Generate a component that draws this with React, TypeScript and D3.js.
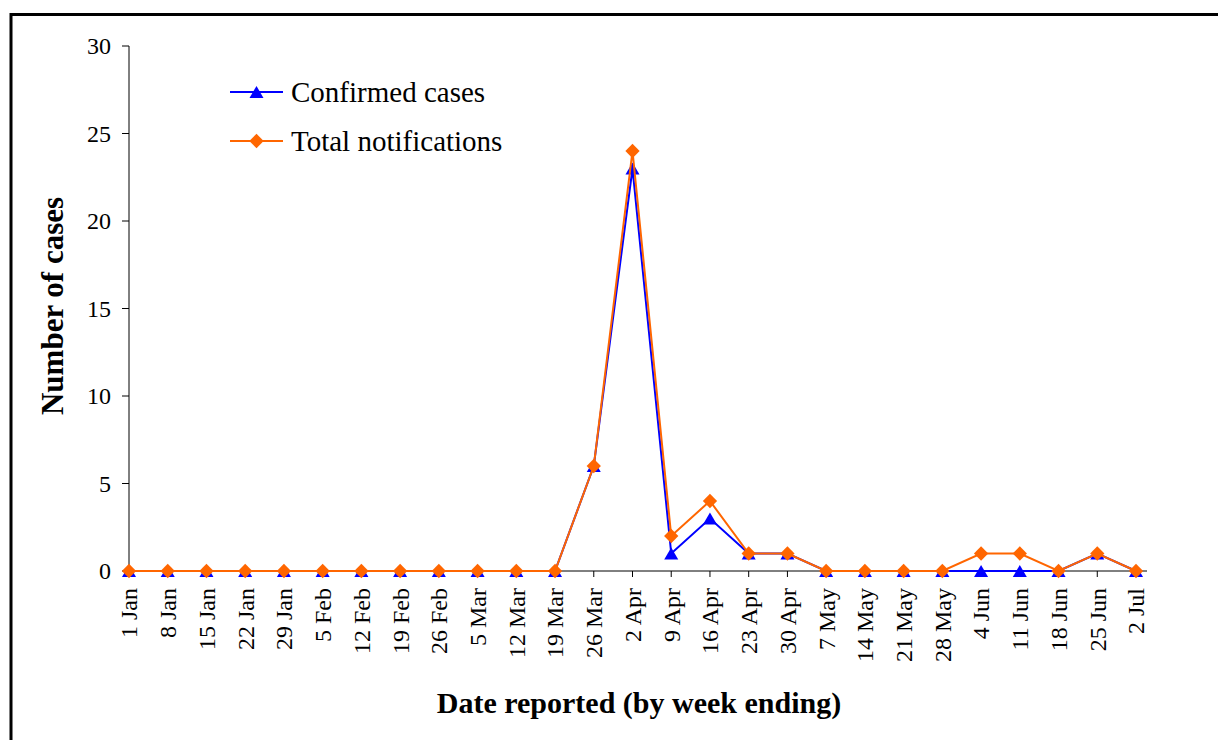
import React from "react";
import * as d3 from "d3";

const weeks = [
  "1 Jan", "8 Jan", "15 Jan", "22 Jan", "29 Jan", "5 Feb", "12 Feb", "19 Feb", "26 Feb",
  "5 Mar", "12 Mar", "19 Mar", "26 Mar", "2 Apr", "9 Apr", "16 Apr", "23 Apr", "30 Apr",
  "7 May", "14 May", "21 May", "28 May", "4 Jun", "11 Jun", "18 Jun", "25 Jun", "2 Jul",
];
const confirmed = [0, 0, 0, 0, 0, 0, 0, 0, 0, 0, 0, 0, 6, 23, 1, 3, 1, 1, 0, 0, 0, 0, 0, 0, 0, 1, 0];
const notifications = [0, 0, 0, 0, 0, 0, 0, 0, 0, 0, 0, 0, 6, 24, 2, 4, 1, 1, 0, 0, 0, 0, 1, 1, 0, 1, 0];
const yTicks = [0, 5, 10, 15, 20, 25, 30];

const W = 1218;
const H = 740;
const FONT = "'Liberation Serif', 'Times New Roman', serif";

export default function App() {
  const x = d3.scalePoint<string>().domain(weeks).range([129, 1136]);
  const y = d3.scaleLinear().domain([0, 30]).range([571, 46]);

  const line = d3
    .line<number>()
    .x((_, i) => x(weeks[i]) as number)
    .y((d) => y(d));

  const tri = d3.symbol().type(d3.symbolTriangle).size(85)()!;
  const dia = d3.symbol().type(d3.symbolDiamond2 ?? d3.symbolDiamond).size(130)()!;

  const series = [
    { name: "Confirmed cases", values: confirmed, color: "#0000FF", marker: tri, dy: 2 },
    { name: "Total notifications", values: notifications, color: "#FF6600", marker: dia, dy: 0 },
  ];

  return (
    <svg
      width={W}
      height={H}
      style={{ position: "absolute", left: 0, top: 0, background: "#fff" }}
      fontFamily={FONT}
    >
      {/* outer frame */}
      <rect x={11} y={14.5} width={W + 20} height={H + 20} fill="none" stroke="#000" strokeWidth={3} />

      {/* y axis */}
      <line x1={129} x2={129} y1={46} y2={571} stroke="#000" strokeWidth={1} />
      {yTicks.map((t) => (
        <g key={t}>
          <line x1={122} x2={129} y1={y(t)} y2={y(t)} stroke="#000" />
          <text x={111} y={y(t)} dy="0.35em" textAnchor="end" fontSize={24} fill="#000">
            {t}
          </text>
        </g>
      ))}

      {/* x axis */}
      <line x1={129} x2={1147} y1={571} y2={571} stroke="#000" strokeWidth={1} />
      {weeks.map((w) => (
        <g key={w} transform={`translate(${x(w)},571)`}>
          <line y1={0} y2={6} stroke="#000" />
          <text
            transform="rotate(-90)"
            x={-17}
            y={0}
            dy="0.35em"
            textAnchor="end"
            fontSize={24}
            fill="#000"
          >
            {w}
          </text>
        </g>
      ))}

      {/* series */}
      {series.map((s) => (
        <g key={s.name}>
          <path d={line(s.values)!} fill="none" stroke={s.color} strokeWidth={2} />
          {s.values.map((v, i) => (
            <path
              key={i}
              d={s.marker}
              transform={`translate(${x(weeks[i])},${y(v) + s.dy})`}
              fill={s.color}
            />
          ))}
        </g>
      ))}

      {/* legend */}
      {series.map((s, i) => (
        <g key={s.name} transform={`translate(230,${92 + i * 49})`}>
          <line x1={0} x2={53} y1={0} y2={0} stroke={s.color} strokeWidth={2} />
          <path d={s.marker} transform={`translate(26.5,${s.dy})`} fill={s.color} />
          <text x={61} y={0} dy="0.35em" fontSize={29} fill="#000">
            {s.name}
          </text>
        </g>
      ))}

      {/* axis titles */}
      <text
        transform="translate(52,306) rotate(-90)"
        textAnchor="middle"
        dy="0.35em"
        fontSize={31}
        fontWeight="bold"
        fill="#000"
      >
        Number of cases
      </text>
      <text x={639} y={702} dy="0.35em" textAnchor="middle" fontSize={30} fontWeight="bold" fill="#000">
        Date reported (by week ending)
      </text>
    </svg>
  );
}
